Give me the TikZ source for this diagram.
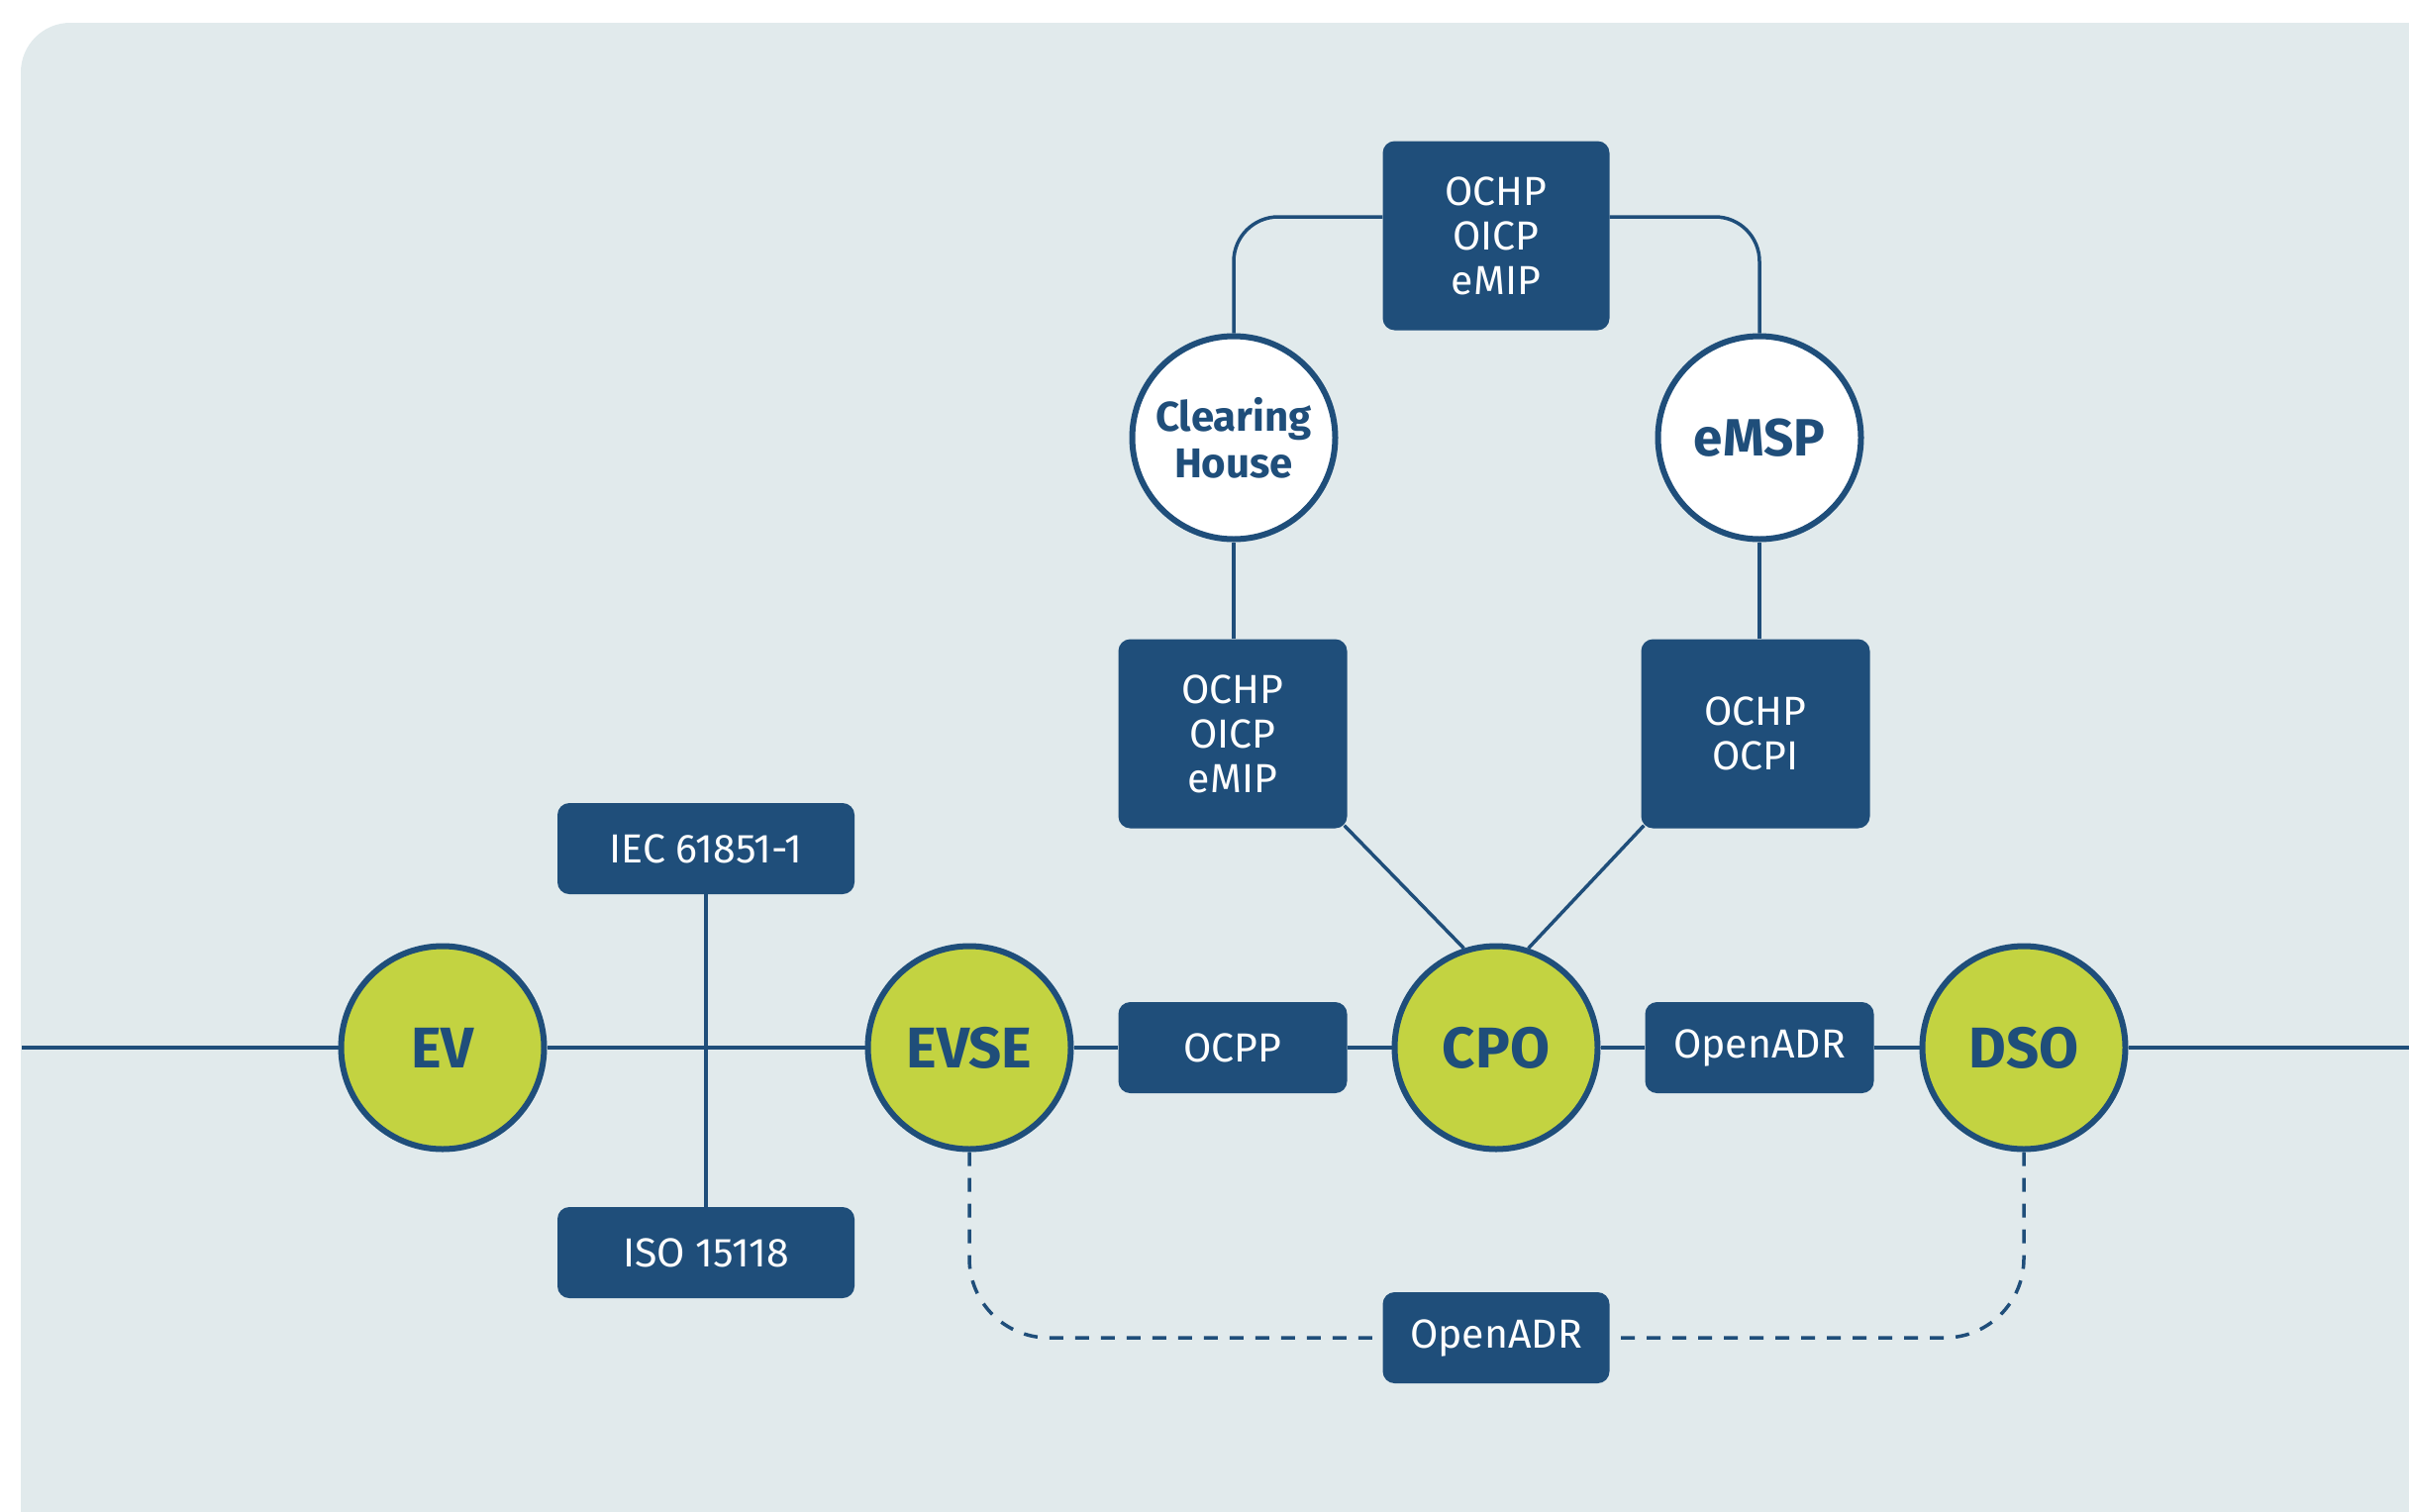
\documentclass[tikz,border=0pt]{standalone}
\usepackage{fontspec}
\setmainfont{Fira Sans}
\definecolor{bgc}{HTML}{E1EAEC}
\definecolor{navy}{HTML}{1F4E7A}
\definecolor{lime}{HTML}{C3D341}
\begin{document}
\begin{tikzpicture}[x=1pt,y=-1pt,
  proto/.style={fill=navy, rounded corners=12pt, text=white,
    font=\fontsize{41}{45}\selectfont, align=center,
    minimum width=231pt, minimum height=92pt, inner sep=0pt},
  actor/.style={circle, draw=navy, line width=6pt, fill=lime, text=navy,
    font=\fontsize{58}{60}\selectfont\bfseries, minimum size=205pt, inner sep=0pt},
  role/.style={actor, fill=white},
  link/.style={draw=navy, line width=3.5pt},
  dlink/.style={link, dash pattern=on 14pt off 12pt, rounded corners=80pt},
]
\useasboundingbox (0,0) rectangle (2433,1526);
\fill[bgc, rounded corners=50pt] (21,23) rectangle (2480,1580);

% actors
\node[actor] (ev)   at (447,1058) {EV};
\node[actor] (evse) at (979,1058) {EVSE};
\node[actor] (cpo)  at (1511,1058) {CPO};
\node[actor] (dso)  at (2044,1058) {DSO};
\node[role, font=\fontsize{42}{47}\selectfont\bfseries, align=center] (ch) at (1246,442) {Clearing\\House};
\node[role, font=\fontsize{53}{60}\selectfont\bfseries] (emsp) at (1777,442) {eMSP};

% protocol boxes
\node[proto, minimum width=229pt, minimum height=191pt] (top) at (1511,238) {OCHP\\OICP\\eMIP};
\node[proto, minimum height=191pt] (lbox) at (1245,741) {OCHP\\OICP\\eMIP};
\node[proto, minimum height=191pt] (rbox) at (1773,741) {OCHP\\OCPI};
\node[proto, minimum width=300pt] (iec) at (713,857) {IEC 61851-1};
\node[proto, minimum width=300pt] (iso) at (713,1265) {ISO 15118};
\node[proto] (ocpp) at (1245,1058) {OCPP};
\node[proto] (adr) at (1777,1058) {OpenADR};
\node[proto, minimum width=229pt] (adr2) at (1511,1351) {OpenADR};

\coordinate (lend) at (22,1058);
\coordinate (rend) at (2433,1058);

% connectors
\draw[link] (lend) -- (ev);
\draw[link] (ev) -- (evse);
\draw[link] (iec) -- (iso);
\draw[link] (evse) -- (ocpp.west |- evse);
\draw[link] (ocpp.east |- cpo) -- (cpo);
\draw[link] (cpo) -- (adr.west |- cpo);
\draw[link] (adr.east |- dso) -- (dso);
\draw[link] (dso) -- (rend);
\draw[link, rounded corners=45pt] (ch.north) |- ([yshift=19pt]top.west);
\draw[link, rounded corners=45pt] (emsp.north) |- ([yshift=19pt]top.east);
\draw[link] (ch) -- (ch |- lbox.north);
\draw[link] (emsp) -- (emsp |- rbox.north);
\draw[link] ([shift={(-3,-3)}]lbox.south east) -- (cpo.108);
\draw[link] ([shift={(3,-3)}]rbox.south west) -- (cpo.72);
\draw[dlink] (evse.south) |- (adr2.west);
\draw[dlink] (dso.south) |- (adr2.east);
\end{tikzpicture}
\end{document}
